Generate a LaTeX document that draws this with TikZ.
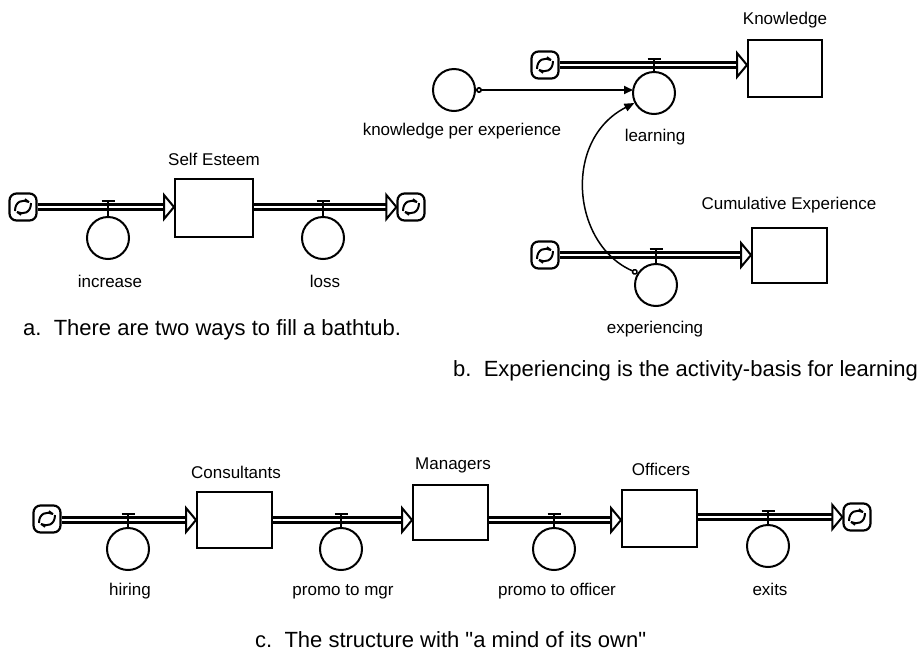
\documentclass[tikz,border=0pt]{standalone}
\usepackage{fontspec}
\setmainfont{Liberation Sans}
\usetikzlibrary{arrows.meta,calc}
\begin{document}
\begin{tikzpicture}[x=1pt,y=-1pt,
  stock/.style={draw, line width=2pt, minimum width=75pt, minimum height=56pt, inner sep=0pt},
  valve/.style={draw, circle, line width=2pt, minimum size=42pt, inner sep=0pt},
  lbl/.style={font=\fontsize{17}{20}\selectfont, anchor=base, inner sep=0pt},
  captxt/.style={font=\fontsize{22}{26}\selectfont, anchor=base west, inner sep=0pt},
  pipe/.style={line width=2.6pt, double, double distance=2pt, shorten >=9pt},
  tee/.style={line width=2.2pt},
  conn/.style={line width=1.8pt, {Circle[open,length=6pt,width=6pt]}-{Triangle[length=9pt,width=8pt]}},
  cloudsym/.style={draw, line width=2.2pt, rounded corners=7pt, minimum size=27pt, inner sep=0pt,
    path picture={\begin{scope}[shift={(path picture bounding box.center)}, x=1pt, y=1pt]
      \draw[line width=2pt] (-8,-4) .. controls (-8,6) and (0,8) .. (6,5);
      \draw[line width=2pt] (8,4) .. controls (8,-6) and (0,-8) .. (-6,-5);
      \draw[line width=1.6pt] (6,5) -- (2,8) (-6,-5) -- (-2,-8);
      \end{scope}}},
  pipehead/.pic={\draw[line width=2pt, fill=white, line join=miter] (0,0) -- (-10,-12) -- (-10,12) -- cycle;},
]
\useasboundingbox (0,0) rectangle (919,654);

% ---------- panel a ----------
\node[cloudsym] (cla1) at (23,207) {};
\node[stock, minimum width=78pt, minimum height=58pt] (se) at (214,208) {};
\node[lbl] at (214,165) {Self Esteem};
\node[valve] (inc) at (108,238) {};
\node[valve] (loss) at (323,238) {};
\node[cloudsym] (cla2) at (411,207) {};
\draw[pipe] (cla1.east) -- (cla1.east -| se.west);
\pic at (cla1.east -| se.west) {pipehead};
\draw[pipe] (se.east |- cla2) -- (cla2.west);
\pic at (cla2.west) {pipehead};
\draw[tee] (inc.north) -- ($(inc.north |- cla1)+(0,-6)$);
\draw[tee] ($(inc.north |- cla1)+(-6.5,-6)$) -- ++(13,0);
\draw[tee] (loss.north) -- ($(loss.north |- cla2)+(0,-6)$);
\draw[tee] ($(loss.north |- cla2)+(-6.5,-6)$) -- ++(13,0);
\node[lbl] at (110,287) {increase};
\node[lbl] at (325,287) {loss};
\node[captxt] at (23,335) {a.\ \ There are two ways to fill a bathtub.};

% ---------- panel b ----------
\node[cloudsym] (clb1) at (545,65) {};
\node[stock, minimum width=74pt, minimum height=57pt] (know) at (785,68.5) {};
\node[lbl] at (785,24) {Knowledge};
\node[valve] (learn) at (654,93) {};
\node[valve] (kpe) at (454,90) {};
\draw[pipe] (clb1.east) -- (clb1.east -| know.west);
\pic at (clb1.east -| know.west) {pipehead};
\draw[tee] (learn.north) -- ($(learn.north |- clb1)+(0,-6)$);
\draw[tee] ($(learn.north |- clb1)+(-6.5,-6)$) -- ++(13,0);
\node[lbl] at (655,141) {learning};
\node[lbl] at (462,135) {knowledge per experience};
\draw[conn] (kpe.east) -- ($(kpe.east -| learn.west)+(1,0)$);

\node[cloudsym] (clb2) at (545,255) {};
\node[stock, minimum width=75pt, minimum height=55pt] (cum) at (789.5,255.5) {};
\node[lbl] at (789,209) {Cumulative Experience};
\node[valve] (exper) at (656,285) {};
\draw[pipe] (clb2.east) -- (clb2.east -| cum.west);
\pic at (clb2.east -| cum.west) {pipehead};
\draw[tee] (exper.north) -- ($(exper.north |- clb2)+(0,-6)$);
\draw[tee] ($(exper.north |- clb2)+(-6.5,-6)$) -- ++(13,0);
\node[lbl] at (655,333) {experiencing};
\draw[line width=1.5pt, {Circle[open,length=6pt,width=6pt]}-{Triangle[length=10pt,width=8pt]}]
  (exper.147) .. controls (572,245) and (562,140) .. (learn.207);
\node[captxt] at (453,376) {b.\ \ Experiencing is the activity-basis for learning};

% ---------- panel c ----------
\coordinate (pc) at (0,520);
\node[cloudsym] (clc1) at (47,519) {};
\node[stock] (cons) at (234.5,520) {};
\node[lbl] at (236,478) {Consultants};
\node[stock, minimum height=55pt] (mgr) at (450.5,512.5) {};
\node[lbl] at (453,469) {Managers};
\node[stock, minimum height=57pt] (off) at (659.5,518.5) {};
\node[lbl] at (661,475) {Officers};
\node[cloudsym] (clc2) at (857,517) {};
\node[valve] (hir) at (128,549) {};
\node[valve] (pmgr) at (341,549) {};
\node[valve] (poff) at (554,549) {};
\node[valve] (exits) at (768,546) {};

\draw[pipe] (clc1.east |- pc) -- (cons.west |- pc);
\pic at (cons.west |- pc) {pipehead};
\draw[pipe] (cons.east |- pc) -- (mgr.west |- pc);
\pic at (mgr.west |- pc) {pipehead};
\draw[pipe] (mgr.east |- pc) -- (off.west |- pc);
\pic at (off.west |- pc) {pipehead};
\draw[pipe] (off.east |- clc2) -- (clc2.west);
\pic at (clc2.west) {pipehead};

\draw[tee] (hir.north) -- ($(hir.north |- pc)+(0,-6)$);
\draw[tee] ($(hir.north |- pc)+(-6.5,-6)$) -- ++(13,0);
\draw[tee] (pmgr.north) -- ($(pmgr.north |- pc)+(0,-6)$);
\draw[tee] ($(pmgr.north |- pc)+(-6.5,-6)$) -- ++(13,0);
\draw[tee] (poff.north) -- ($(poff.north |- pc)+(0,-6)$);
\draw[tee] ($(poff.north |- pc)+(-6.5,-6)$) -- ++(13,0);
\draw[tee] (exits.north) -- ($(exits.north |- clc2)+(0,-6)$);
\draw[tee] ($(exits.north |- clc2)+(-6.5,-6)$) -- ++(13,0);

\node[lbl] at (130,595) {hiring};
\node[lbl] at (343,595) {promo to mgr};
\node[lbl] at (557,595) {promo to officer};
\node[lbl] at (770,595) {exits};
\node[captxt] at (255,647) {c.\ \ The structure with \textquotedbl a mind of its own\textquotedbl};
\end{tikzpicture}
\end{document}
